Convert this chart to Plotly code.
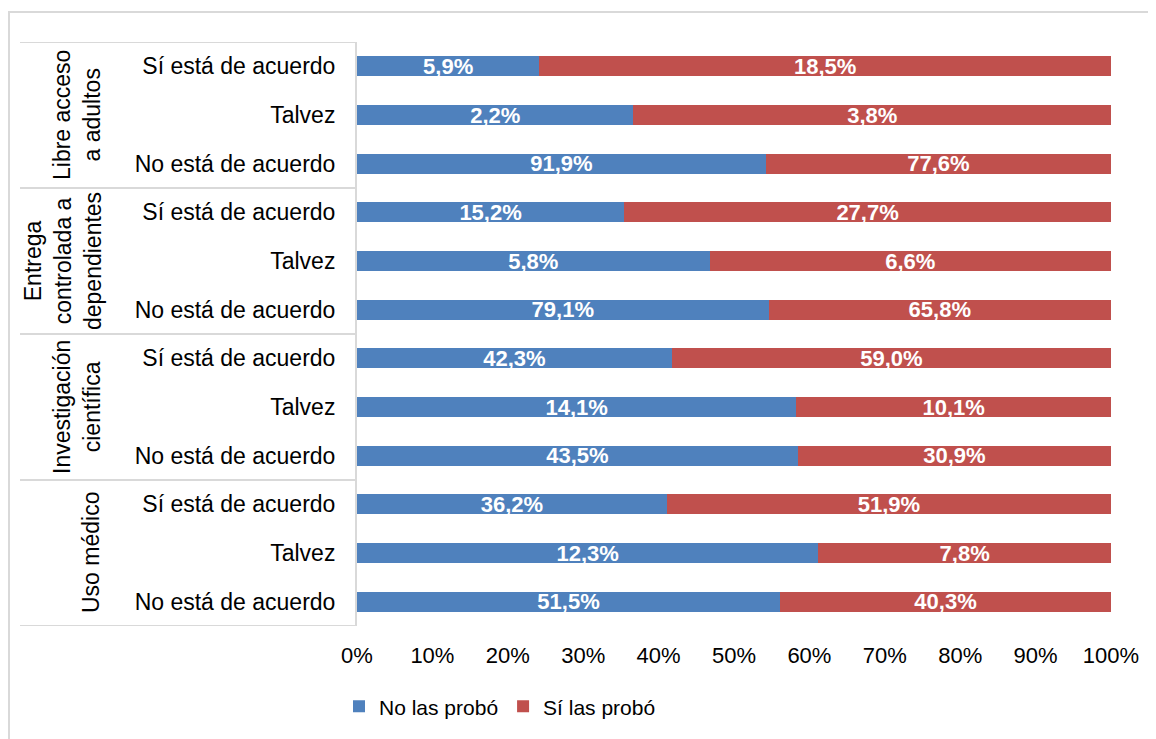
import plotly.graph_objects as go

# categories, top to bottom
groups = ["Libre acceso<br>a adultos", "Entrega<br>controlada a<br>dependientes",
          "Investigación<br>científica", "Uso médico"]
answers = ["Sí está de acuerdo", "Talvez", "No está de acuerdo"]

# % within each column (No las probó / Sí las probó), same order as rows
no_probo = [5.9, 2.2, 91.9, 15.2, 5.8, 79.1, 42.3, 14.1, 43.5, 36.2, 12.3, 51.5]
si_probo = [18.5, 3.8, 77.6, 27.7, 6.6, 65.8, 59.0, 10.1, 30.9, 51.9, 7.8, 40.3]

x_ticks = [0, 10, 20, 30, 40, 50, 60, 70, 80, 90, 100]
x_tick_text = [f"{t}%" for t in x_ticks]

BLUE = "#4F81BD"
RED = "#C0504D"
GRID = "#D9D9D9"
FONT = "Liberation Sans, Arial, sans-serif"

# page has an 8px body margin, so work in page pixels and shift
OFF = 8
W, H = 1156 - OFF, 739 - OFF
PL, PR, PT, PB = 357, 1111, 42, 628  # plot area in page pixels
L, R, T, B = PL - OFF, W - (PR - OFF), PT - OFF, H - (PB - OFF)
plot_w = PR - PL
plot_h = PB - PT


def px_x(px):
    return (px - PL) / plot_w


def px_y(py):
    return (PB - py) / plot_h


n = len(no_probo)
ypos = [n - 1 - i for i in range(n)]
row_labels = [a for _ in groups for a in answers]


def fmt(v):
    return f"{v:.1f}%".replace(".", ",")


fig = go.Figure()
for name, vals, color in [("No las probó", no_probo, BLUE), ("Sí las probó", si_probo, RED)]:
    fig.add_trace(go.Bar(
        y=ypos, x=vals, name=name, orientation="h",
        marker=dict(color=color, line=dict(width=0)),
        width=0.41,
        text=[fmt(v) for v in vals],
        textposition="inside", insidetextanchor="middle",
        constraintext="none",
        textfont=dict(family=FONT, size=22, color="white", weight="bold"),
        hoverinfo="skip",
    ))

shapes = []
# outer chart border (left and top edges are the visible ones)
shapes.append(dict(type="rect", xref="paper", yref="paper",
                   x0=px_x(9), x1=px_x(1170), y0=px_y(12), y1=px_y(760),
                   line=dict(color=GRID, width=2), fillcolor="rgba(0,0,0,0)", layer="below"))
# group separators in the category area
for k in range(len(groups) + 1):
    yy = n - 0.5 - 3 * k
    shapes.append(dict(type="line", xref="paper", yref="y",
                       x0=px_x(20), x1=0, y0=yy, y1=yy,
                       line=dict(color=GRID, width=2)))

annotations = []
group_x = [77, 63, 77, 91]
for g, (label, gx) in enumerate(zip(groups, group_x)):
    annotations.append(dict(
        text=label, textangle=-90, xref="paper", yref="y",
        x=px_x(gx), y=n - 2 - 3 * g, xanchor="center", yanchor="middle",
        showarrow=False, align="center",
        font=dict(family=FONT, size=23, color="black"),
    ))

fig.update_layout(
    width=W, height=H,
    margin=dict(l=L, r=R, t=T, b=B),
    barmode="stack", barnorm="percent",
    paper_bgcolor="white", plot_bgcolor="white",
    font=dict(family=FONT, color="black"),
    shapes=shapes, annotations=annotations,
    legend=dict(orientation="h", x=px_x(500), xanchor="center",
                y=px_y(709), yanchor="middle",
                font=dict(family=FONT, size=21, color="black"),
                itemwidth=30, traceorder="normal"),
    showlegend=True,
)
fig.update_xaxes(range=[0, 100], tickvals=x_ticks, ticktext=x_tick_text,
                 showgrid=False, zeroline=False, showline=False,
                 tickfont=dict(family=FONT, size=22, color="black"),
                 ticks="", ticklabelstandoff=14)
fig.update_yaxes(range=[-0.5, n - 0.5], tickvals=ypos, ticktext=row_labels,
                 showgrid=False, zeroline=False, showline=True,
                 linecolor=GRID, linewidth=2,
                 tickfont=dict(family=FONT, size=23, color="black"),
                 ticks="", ticklabelstandoff=15)

fig.write_html("out.html")
